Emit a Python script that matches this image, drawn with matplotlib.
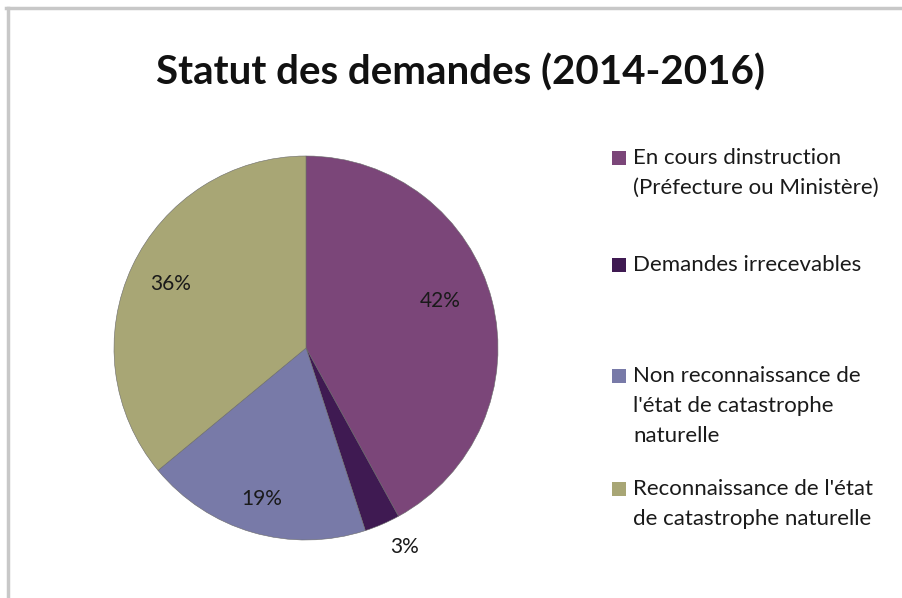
import numpy as np
import matplotlib.pyplot as plt
from matplotlib.lines import Line2D
from matplotlib.patches import Rectangle

# parts des demandes (%), dans l'ordre horaire depuis midi
labels = ["En cours dinstruction\n(Préfecture ou Ministère)",
          "Demandes irrecevables",
          "Non reconnaissance de\nl'état de catastrophe\nnaturelle",
          "Reconnaissance de l'état\nde catastrophe naturelle"]
values = [42, 3, 19, 36]
colors = ["#7b4679", "#3f1a52", "#787aa8", "#a8a675"]

plt.rcParams['font.family'] = ['Lato', 'DejaVu Sans']
W, H = 902, 598
fig = plt.figure(figsize=(W / 100, H / 100), dpi=100)

# cadre gris en haut et à gauche
fig.add_artist(Line2D([6 / W, 1], [1 - 8 / H, 1 - 8 / H], color="#c8c8c8", lw=2.5))
fig.add_artist(Line2D([8 / W, 8 / W], [1 - 8 / H, 0], color="#c8c8c8", lw=2.5))

cx, cy, r = 306, 348, 192
ax = fig.add_axes([(cx - r) / W, (H - cy - r) / H, 2 * r / W, 2 * r / H])
wedges, _ = ax.pie(values, colors=colors, startangle=90, counterclock=False,
                   wedgeprops=dict(linewidth=0.4, edgecolor="#6a6a6a"))
ax.set_xlim(-1, 1)
ax.set_ylim(-1, 1)

# étiquettes de pourcentage (placement "ajusté" comme Excel)
label_r = [0.74, 1.16, 0.82, 0.78]
label_da = [5, 3, 0, 0]
for w, v, lr, da in zip(wedges, values, label_r, label_da):
    a = np.deg2rad((w.theta1 + w.theta2) / 2 + da)
    ax.text(lr * np.cos(a), lr * np.sin(a), f"{v}%", ha="center", va="center",
            fontsize=15, color="#1a1a1a")

fig.text(460 / W, 1 - 73 / H, "Statut des demandes (2014-2016)", ha="center", va="center",
         fontsize=29, fontweight="bold", color="#111111")

# légende
leg_y = [158, 265, 376, 489]
for lab, c, y in zip(labels, colors, leg_y):
    fig.add_artist(Rectangle((612 / W, 1 - (y + 7) / H), 14 / W, 14 / H, facecolor=c,
                             edgecolor="none", transform=fig.transFigure))
    fig.text(633 / W, 1 - (y - 10) / H, lab, ha="left", va="top", fontsize=16,
             color="#1a1a1a", linespacing=1.62)

fig.savefig("out.png", dpi=100)
